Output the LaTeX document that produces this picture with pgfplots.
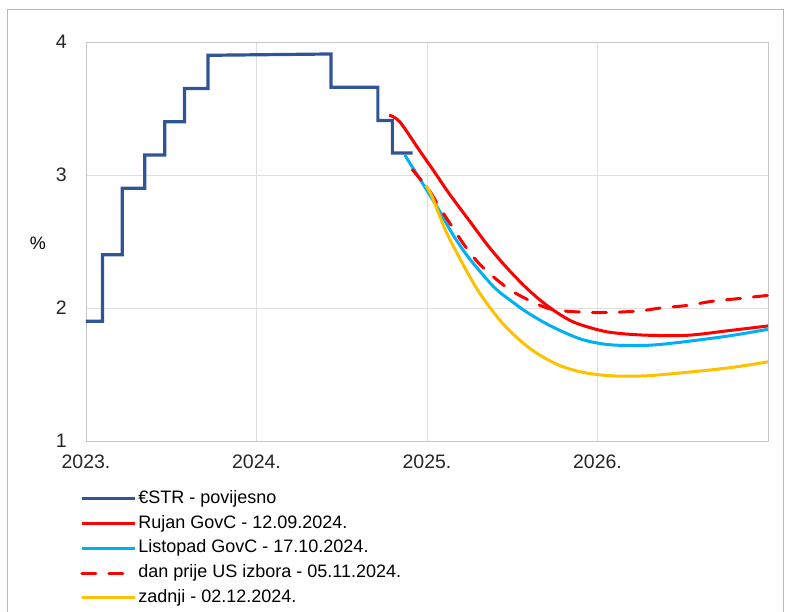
\documentclass[border=0pt]{standalone}
\usepackage{pgfplots}
\pgfplotsset{compat=1.18}
\usepackage{fontspec}
\setmainfont{Liberation Sans}
\definecolor{cblue}{RGB}{47,85,151}
\definecolor{cred}{RGB}{255,0,0}
\definecolor{ccyan}{RGB}{0,176,240}
\definecolor{cyel}{RGB}{255,192,0}
\begin{document}
\begin{tikzpicture}[x=1pt,y=1pt]
\path[use as bounding box] (-86,-170) rectangle (706,441);
\draw[gray!55, line width=1pt] (-78,-175) -- (-78,431) -- (697,431) -- (697,-175);
\begin{axis}[
  at={(0,0)}, anchor=south west,
  scale only axis, width=682pt, height=399pt,
  xmin=2023, xmax=2027, ymin=1, ymax=4,
  xtick={2023,2024,2025,2026},
  xticklabels={2023.,2024.,2025.,2026.},
  ytick={1,2,3,4},
  major tick length=0pt,
  grid=major,
  grid style={gray!25, line width=0.8pt},
  axis line style={gray!45, line width=0.8pt},
  /pgf/number format/assume math mode=true,
  tick label style={font=\fontsize{19.5}{22}\selectfont, text=black!85},
  yticklabel style={inner sep=0pt, xshift=-19pt},
  xticklabel style={inner sep=0pt, yshift=-14pt},
  ylabel={\%},
  every axis y label/.style={at={(axis description cs:-0.0704,0.496)}, anchor=center, font=\fontsize{18}{20}\selectfont},
  legend cell align=left,
  legend style={at={(axis description cs:-0.0088,-0.118)}, anchor=north west, draw=none, fill=none,
    inner sep=0pt, row sep=3.75pt, font=\fontsize{18}{20}\selectfont,
    nodes={inner sep=2pt, text height=13pt, text depth=4pt}},
  legend image code/.code={\draw[#1] (0pt,0pt) -- (53pt,0pt);},
  clip=false,
]
\addplot[cblue, line width=3.2pt, line join=miter] coordinates {
(2023.000,1.90) (2023.097,1.90) (2023.097,2.40) (2023.213,2.40) (2023.213,2.90)
(2023.345,2.90) (2023.345,3.15) (2023.462,3.15) (2023.462,3.40) (2023.578,3.40)
(2023.578,3.65) (2023.715,3.65) (2023.715,3.90) (2024.437,3.91) (2024.437,3.66)
(2024.712,3.66) (2024.712,3.41) (2024.797,3.41) (2024.797,3.165) (2024.915,3.165)
};
\addlegendentry{€STR - povijesno}
\addplot[cred, line width=3pt, smooth, tension=0.55] coordinates {
(2024.778,3.45) (2024.840,3.40) (2024.953,3.19) (2025.040,3.03) (2025.129,2.862)
(2025.246,2.66) (2025.363,2.46) (2025.480,2.286) (2025.596,2.135) (2025.713,2.01)
(2025.850,1.90) (2026.006,1.835) (2026.120,1.81) (2026.300,1.795) (2026.530,1.795)
(2026.770,1.83) (2027.000,1.865)
};
\addlegendentry{Rujan GovC - 12.09.2024.}
\addplot[ccyan, line width=3pt, smooth, tension=0.55] coordinates {
(2024.870,3.15) (2024.992,2.90) (2025.070,2.737) (2025.148,2.56) (2025.226,2.41)
(2025.304,2.286) (2025.400,2.148) (2025.500,2.047) (2025.596,1.96) (2025.733,1.86)
(2025.889,1.772) (2026.006,1.735) (2026.120,1.72) (2026.300,1.72) (2026.470,1.74)
(2026.770,1.79) (2027.000,1.84)
};
\addlegendentry{Listopad GovC - 17.10.2024.}
\addplot[cred, line width=3pt, line cap=round, dash pattern=on 14pt off 13pt, smooth, tension=0.55] coordinates {
(2024.914,3.04) (2025.012,2.887) (2025.070,2.762) (2025.148,2.611) (2025.226,2.46)
(2025.304,2.336) (2025.400,2.223) (2025.489,2.135) (2025.596,2.06) (2025.733,1.99)
(2025.928,1.968) (2026.100,1.968) (2026.260,1.98) (2026.370,2.00) (2026.530,2.02)
(2026.670,2.05) (2026.820,2.07) (2027.000,2.095)
};
\addlegendentry{dan prije US izbora - 05.11.2024.}
\addplot[cyel, line width=3pt, smooth, tension=0.55] coordinates {
(2024.994,2.92) (2025.030,2.837) (2025.108,2.586) (2025.187,2.386) (2025.285,2.16)
(2025.380,1.985) (2025.480,1.835) (2025.616,1.684) (2025.772,1.571) (2025.928,1.513)
(2026.100,1.489) (2026.280,1.49) (2026.470,1.51) (2026.770,1.55) (2027.000,1.595)
};
\addlegendentry{zadnji - 02.12.2024.}
\end{axis}
\end{tikzpicture}
\end{document}
